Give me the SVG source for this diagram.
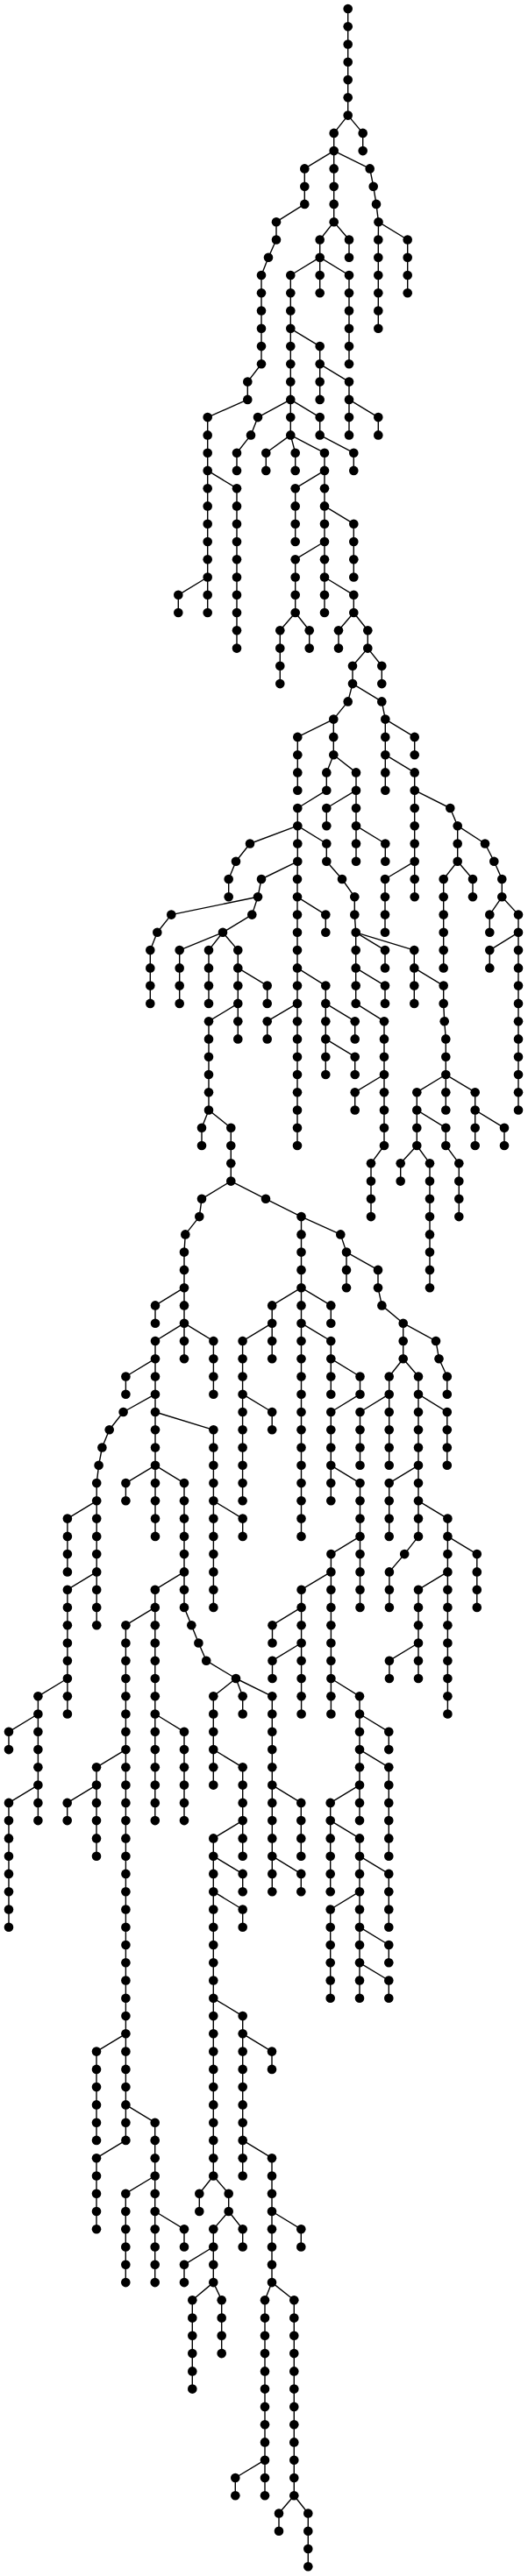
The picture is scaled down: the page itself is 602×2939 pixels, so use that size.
<svg xmlns="http://www.w3.org/2000/svg" width="602" height="2939" viewBox="0 0 602 2939">
<style>
.edges path{fill:none;stroke:#000;stroke-width:1.4;stroke-linejoin:round}
.nodes circle{fill:#000}
</style>
<rect width="602" height="2939" fill="#fff"/>
<g id="connectors" class="edges">
<path d="M396.7 10V131.6L380.7 151.9V253.2L364.7 273.5V334.3"/>
<path d="M396.7 131.6L413.7 151.9V172.1"/>
<path d="M380.7 172.1L347.3 192.4V232.9L315 253.2V273.5L306 293.7L298 314V415.3L282.3 435.6V455.9L236.7 476.1V699"/>
<path d="M380.7 172.1L421.7 192.4L425.7 212.7L429 232.9L431.5 253.2L431.3 273.5V374.8"/>
<path d="M431.5 253.2L464.7 273.5V334.3"/>
<path d="M380.7 253.2L398 273.5V293.7"/>
<path d="M364.7 293.7L331.3 314V496.4L336.7 516.7V536.9"/>
<path d="M364.7 293.7L398 314V415.3"/>
<path d="M331.3 374.8L364.7 395.1V455.9"/>
<path d="M364.7 415.3L398 435.6V496.4"/>
<path d="M398 455.9L431.3 476.1V496.4"/>
<path d="M331.3 455.9L294 476.1L286 496.4L270 516.7V536.9"/>
<path d="M331.3 455.9L364.7 476.1V496.4L403.3 516.7V536.9"/>
<path d="M331.3 496.4L303.3 516.7V536.9"/>
<path d="M331.3 496.4L370 516.7V699"/>
<path d="M370 536.9L336.7 557.2V618"/>
<path d="M370 577.4L403.3 597.7V658.5"/>
<path d="M370 618L336.7 638.2V699L319.3 719.3V780.1"/>
<path d="M336.7 699L352.7 719.3V739.6"/>
<path d="M370 658.5L403.3 678.8V699L419.3 719.3V739.6L402 759.8V780.1L396.7 800.4L380.3 820.6V861.2L372.3 881.4V901.7L339.3 922V982.8L339 1003V1307"/>
<path d="M403.3 699L386 719.3V739.6"/>
<path d="M236.7 536.9L270 557.2V739.6"/>
<path d="M236.7 658.5L203.3 678.8V699"/>
<path d="M419.3 739.6L435.3 759.8V780.1"/>
<path d="M402 780.1L435.3 800.4L439.3 820.6V901.7"/>
<path d="M380.3 820.6L339.3 840.9V901.7"/>
<path d="M439.3 820.6L472.7 840.9V861.2"/>
<path d="M380.3 861.2L406 881.4V982.8"/>
<path d="M439.3 861.2L472.7 881.4V1023.3"/>
<path d="M406 901.7L372.3 922V942.2"/>
<path d="M472.7 901.7L513.3 922L521.7 942.2V982.8L505.7 1003V1104.4"/>
<path d="M521.7 942.2L553 962.5L563.3 982.8L572.3 1003V1023.3L591 1043.6V1266.5"/>
<path d="M521.7 982.8L539 1003V1023.3"/>
<path d="M572.3 1023.3L558.3 1043.6V1063.8"/>
<path d="M591 1063.8L558.3 1084.1V1104.4"/>
<path d="M339.3 942.2L285 962.5L269 982.8L260.7 1003V1023.3"/>
<path d="M339.3 942.2L372.3 962.5V982.8L390 1003L404.3 1023.3V1043.6L405.7 1063.8V1144.9L438 1165.2V1307L423 1327.3V1388.1"/>
<path d="M406 942.2L439.3 962.5V982.8"/>
<path d="M472.7 982.8L439 1003V1063.8"/>
<path d="M339.3 982.8L298 1003L294 1023.3L287.3 1043.6L254 1063.8L271.3 1084.1V1185.4"/>
<path d="M294 1023.3L195.3 1043.6L179.3 1063.8L171.3 1084.1V1144.9"/>
<path d="M254 1063.8L204.7 1084.1V1144.9"/>
<path d="M254 1063.8L238 1084.1V1144.9"/>
<path d="M271.3 1104.4L304.7 1124.6V1144.9"/>
<path d="M271.3 1144.9L238 1165.2V1266.5L263.3 1286.8V1347.6L303 1367.8L343.5 1388.1V1752.9"/>
<path d="M339 1023.3L371.3 1043.6V1063.8"/>
<path d="M405.7 1063.8L439 1084.1V1104.4"/>
<path d="M405.7 1063.8L472.3 1084.1V1144.9"/>
<path d="M339 1104.4L371.3 1124.6V1226"/>
<path d="M405.7 1104.4L439 1124.6V1144.9"/>
<path d="M472.3 1104.4L505.7 1124.6V1144.9L506.7 1165.2L508.3 1185.4V1266.5"/>
<path d="M339 1144.9L304.7 1165.2V1185.4"/>
<path d="M371.3 1144.9L404.7 1165.2V1185.4"/>
<path d="M371.3 1185.4L404.7 1205.7V1226"/>
<path d="M438 1226L404.7 1246.2V1266.5"/>
<path d="M508.3 1226L475.3 1246.2V1307L490 1327.3V1469.2"/>
<path d="M508.3 1226L541.7 1246.2V1307"/>
<path d="M475.3 1266.5L508.3 1286.8V1307L523.3 1327.3V1388.1"/>
<path d="M541.7 1266.5L575 1286.8V1307"/>
<path d="M238 1266.5L230 1286.8V1307"/>
<path d="M475.3 1307L456.7 1327.3V1347.6"/>
<path d="M263.3 1347.6L230 1367.8L227.3 1388.1L211.3 1408.4L210 1428.6V1550.2"/>
<path d="M343.5 1388.1L388.3 1408.4L395 1428.6V1469.2"/>
<path d="M395 1428.6L431 1448.9V1469.2L435.4 1489.4L459.7 1509.7V1550.2L443.7 1570.5V1671.8"/>
<path d="M210 1469.2L177 1489.4V1509.7"/>
<path d="M343.5 1469.2L310.2 1489.4V1550.2"/>
<path d="M343.5 1469.2L377.3 1489.4V1509.7"/>
<path d="M210 1509.7L177 1530V1752.9"/>
<path d="M210 1509.7L243.4 1530V1590.7"/>
<path d="M310.2 1509.7L276.6 1530V1712.3"/>
<path d="M343.5 1509.7L377.3 1530V1590.7"/>
<path d="M377.3 1550.2L410.5 1570.5V1590.7L377.3 1611V1712.3"/>
<path d="M459.7 1509.7L497 1530L500.5 1550.2L509.8 1570.5V1590.7"/>
<path d="M459.7 1550.2L477 1570.5V1752.9L461.2 1773.1L443.9 1793.4V1833.9"/>
<path d="M177 1550.2L143.4 1570.5V1590.7"/>
<path d="M177 1590.7L140.6 1611L124.7 1631.3L116.4 1651.5L112.6 1671.8L110.2 1692.1V1854.2"/>
<path d="M276.6 1590.7L310.2 1611V1631.3"/>
<path d="M443.7 1590.7L410.5 1611V1671.8"/>
<path d="M477 1590.7L509.8 1611V1671.8"/>
<path d="M177 1611L243.4 1631.3V1833.9"/>
<path d="M177 1671.8L143.4 1692.1V1712.3"/>
<path d="M177 1671.8L210 1692.1V1833.9L218.3 1854.2L226.4 1874.5L235.2 1894.7L269 1915L276.7 1935.3V1955.5"/>
<path d="M377.3 1671.8L410.5 1692.1V1833.9"/>
<path d="M477 1671.8L443.7 1692.1V1752.9"/>
<path d="M110.2 1712.3L76.9 1732.6V1793.4"/>
<path d="M243.4 1712.3L276.7 1732.6V1752.9"/>
<path d="M477 1712.3L510.4 1732.6V1955.5"/>
<path d="M410.5 1752.9L377.4 1773.1V1955.5"/>
<path d="M510.4 1752.9L543.8 1773.1V1833.9"/>
<path d="M110.2 1793.4L76.9 1813.7V1955.5"/>
<path d="M210 1793.4L176.8 1813.7V2077.1"/>
<path d="M377.4 1793.4L343.6 1813.7V1955.5"/>
<path d="M510.4 1793.4L477 1813.7V1915"/>
<path d="M176.8 1833.9L143.4 1854.2V2441.9L110 2462.2V2543.3"/>
<path d="M343.6 1833.9L310.5 1854.2V1874.5"/>
<path d="M343.6 1874.5L310.5 1894.7V1915"/>
<path d="M477 1874.5L443.9 1894.7V1915"/>
<path d="M76.9 1915L43.4 1935.3V2077.1"/>
<path d="M269 1915L243.3 1935.3V2036.6"/>
<path d="M269 1915L310.3 1935.3V2158.2"/>
<path d="M377.4 1915L410 1935.3V2077.1"/>
<path d="M43.4 1955.5L10 1975.8V1996.1"/>
<path d="M176.8 1955.5L210 1975.8V2077.1"/>
<path d="M410 1955.5L443.3 1975.8V1996.1"/>
<path d="M143.4 1996.1L110 2016.3V2117.7"/>
<path d="M243.3 1996.1L276.7 2016.3V2117.7"/>
<path d="M410 1996.1L443.3 2016.3V2117.7"/>
<path d="M43.4 2036.6L10 2056.9V2198.7"/>
<path d="M110 2036.6L76.7 2056.9V2077.1"/>
<path d="M310.3 2036.6L343.3 2056.9V2117.7"/>
<path d="M410 2036.6L376.7 2056.9V2158.2"/>
<path d="M276.7 2077.1L243.3 2097.4V2482.5L227.3 2502.7V2523"/>
<path d="M376.7 2077.1L410 2097.4V2279.8"/>
<path d="M243.3 2117.7L276.7 2137.9V2158.2"/>
<path d="M310.3 2117.7L343.3 2137.9V2158.2"/>
<path d="M410 2117.7L443.3 2137.9V2198.7"/>
<path d="M243.3 2158.2L276.7 2178.5V2198.7"/>
<path d="M410 2158.2L376.7 2178.5V2279.8"/>
<path d="M410 2198.7L443.3 2219V2239.3"/>
<path d="M410 2239.3L443.3 2259.5V2279.8"/>
<path d="M243.3 2279.8L276.7 2300.1V2482.5"/>
<path d="M143.4 2320.3L110 2340.6V2441.9"/>
<path d="M276.7 2320.3L310 2340.6V2360.9"/>
<path d="M143.4 2401.4L176.7 2421.7V2604.1"/>
<path d="M276.7 2441.9L310 2462.2V2604.1L335.3 2624.3V2847.2L351.3 2867.5V2928.3"/>
<path d="M243.3 2482.5L260.7 2502.7V2523L243.3 2543.3V2604.1L219.3 2624.3V2725.6"/>
<path d="M176.7 2523L210 2543.3V2563.5"/>
<path d="M310 2523L343.3 2543.3V2563.5"/>
<path d="M260.7 2523L276.7 2543.3V2563.5"/>
<path d="M243.3 2563.5L210 2583.8V2604.1"/>
<path d="M243.3 2604.1L252.7 2624.3V2685.1"/>
<path d="M310 2604.1L302 2624.3V2847.2"/>
<path d="M302 2806.7L268.3 2827V2847.2"/>
<path d="M335.3 2847.2L318 2867.5V2887.8"/>
<path d="M176.7 2482.5L143.3 2502.7V2604.1"/>
</g>
<g class="nodes">
<g id="n1_0"><circle cx="396.7" cy="10" r="5.3"/></g>
<g id="n1_1"><circle cx="396.7" cy="30.3" r="5.3"/></g>
<g id="n1_2"><circle cx="396.7" cy="50.5" r="5.3"/></g>
<g id="n1_3"><circle cx="396.7" cy="70.8" r="5.3"/></g>
<g id="n1_4"><circle cx="396.7" cy="91.1" r="5.3"/></g>
<g id="n1_5"><circle cx="396.7" cy="111.3" r="5.3"/></g>
<g id="n1_6"><circle cx="396.7" cy="131.6" r="5.3"/></g>
<g id="n1_7"><circle cx="380.7" cy="151.9" r="5.3"/></g>
<g id="n1_8"><circle cx="380.7" cy="172.1" r="5.3"/></g>
<g id="n1_9"><circle cx="380.7" cy="192.4" r="5.3"/></g>
<g id="n1_10"><circle cx="380.7" cy="212.7" r="5.3"/></g>
<g id="n1_11"><circle cx="380.7" cy="232.9" r="5.3"/></g>
<g id="n1_12"><circle cx="380.7" cy="253.2" r="5.3"/></g>
<g id="n1_13"><circle cx="364.7" cy="273.5" r="5.3"/></g>
<g id="n1_14"><circle cx="364.7" cy="293.7" r="5.3"/></g>
<g id="n1_15"><circle cx="364.7" cy="314" r="5.3"/></g>
<g id="n1_16"><circle cx="364.7" cy="334.3" r="5.3"/></g>
<g id="n2_7"><circle cx="413.7" cy="151.9" r="5.3"/></g>
<g id="n2_8"><circle cx="413.7" cy="172.1" r="5.3"/></g>
<g id="n3_9"><circle cx="347.3" cy="192.4" r="5.3"/></g>
<g id="n3_10"><circle cx="347.3" cy="212.7" r="5.3"/></g>
<g id="n3_11"><circle cx="347.3" cy="232.9" r="5.3"/></g>
<g id="n3_12"><circle cx="315" cy="253.2" r="5.3"/></g>
<g id="n3_13"><circle cx="315" cy="273.5" r="5.3"/></g>
<g id="n3_14"><circle cx="306" cy="293.7" r="5.3"/></g>
<g id="n3_15"><circle cx="298" cy="314" r="5.3"/></g>
<g id="n3_16"><circle cx="298" cy="334.3" r="5.3"/></g>
<g id="n3_17"><circle cx="298" cy="354.5" r="5.3"/></g>
<g id="n3_18"><circle cx="298" cy="374.8" r="5.3"/></g>
<g id="n3_19"><circle cx="298" cy="395.1" r="5.3"/></g>
<g id="n3_20"><circle cx="298" cy="415.3" r="5.3"/></g>
<g id="n3_21"><circle cx="282.3" cy="435.6" r="5.3"/></g>
<g id="n3_22"><circle cx="282.3" cy="455.9" r="5.3"/></g>
<g id="n3_23"><circle cx="236.7" cy="476.1" r="5.3"/></g>
<g id="n3_24"><circle cx="236.7" cy="496.4" r="5.3"/></g>
<g id="n3_25"><circle cx="236.7" cy="516.7" r="5.3"/></g>
<g id="n3_26"><circle cx="236.7" cy="536.9" r="5.3"/></g>
<g id="n3_27"><circle cx="236.7" cy="557.2" r="5.3"/></g>
<g id="n3_28"><circle cx="236.7" cy="577.4" r="5.3"/></g>
<g id="n3_29"><circle cx="236.7" cy="597.7" r="5.3"/></g>
<g id="n3_30"><circle cx="236.7" cy="618" r="5.3"/></g>
<g id="n3_31"><circle cx="236.7" cy="638.2" r="5.3"/></g>
<g id="n3_32"><circle cx="236.7" cy="658.5" r="5.3"/></g>
<g id="n3_33"><circle cx="236.7" cy="678.8" r="5.3"/></g>
<g id="n3_34"><circle cx="236.7" cy="699" r="5.3"/></g>
<g id="n4_9"><circle cx="421.7" cy="192.4" r="5.3"/></g>
<g id="n4_10"><circle cx="425.7" cy="212.7" r="5.3"/></g>
<g id="n4_11"><circle cx="429" cy="232.9" r="5.3"/></g>
<g id="n4_12"><circle cx="431.5" cy="253.2" r="5.3"/></g>
<g id="n4_13"><circle cx="431.3" cy="273.5" r="5.3"/></g>
<g id="n4_14"><circle cx="431.3" cy="293.7" r="5.3"/></g>
<g id="n4_15"><circle cx="431.3" cy="314" r="5.3"/></g>
<g id="n4_16"><circle cx="431.3" cy="334.3" r="5.3"/></g>
<g id="n4_17"><circle cx="431.3" cy="354.5" r="5.3"/></g>
<g id="n4_18"><circle cx="431.3" cy="374.8" r="5.3"/></g>
<g id="n5_13"><circle cx="464.7" cy="273.5" r="5.3"/></g>
<g id="n5_14"><circle cx="464.7" cy="293.7" r="5.3"/></g>
<g id="n5_15"><circle cx="464.7" cy="314" r="5.3"/></g>
<g id="n5_16"><circle cx="464.7" cy="334.3" r="5.3"/></g>
<g id="n6_13"><circle cx="398" cy="273.5" r="5.3"/></g>
<g id="n6_14"><circle cx="398" cy="293.7" r="5.3"/></g>
<g id="n7_15"><circle cx="331.3" cy="314" r="5.3"/></g>
<g id="n7_16"><circle cx="331.3" cy="334.3" r="5.3"/></g>
<g id="n7_17"><circle cx="331.3" cy="354.5" r="5.3"/></g>
<g id="n7_18"><circle cx="331.3" cy="374.8" r="5.3"/></g>
<g id="n7_19"><circle cx="331.3" cy="395.1" r="5.3"/></g>
<g id="n7_20"><circle cx="331.3" cy="415.3" r="5.3"/></g>
<g id="n7_21"><circle cx="331.3" cy="435.6" r="5.3"/></g>
<g id="n7_22"><circle cx="331.3" cy="455.9" r="5.3"/></g>
<g id="n7_23"><circle cx="331.3" cy="476.1" r="5.3"/></g>
<g id="n7_24"><circle cx="331.3" cy="496.4" r="5.3"/></g>
<g id="n7_25"><circle cx="336.7" cy="516.7" r="5.3"/></g>
<g id="n7_26"><circle cx="336.7" cy="536.9" r="5.3"/></g>
<g id="n8_15"><circle cx="398" cy="314" r="5.3"/></g>
<g id="n8_16"><circle cx="398" cy="334.3" r="5.3"/></g>
<g id="n8_17"><circle cx="398" cy="354.5" r="5.3"/></g>
<g id="n8_18"><circle cx="398" cy="374.8" r="5.3"/></g>
<g id="n8_19"><circle cx="398" cy="395.1" r="5.3"/></g>
<g id="n8_20"><circle cx="398" cy="415.3" r="5.3"/></g>
<g id="n9_19"><circle cx="364.7" cy="395.1" r="5.3"/></g>
<g id="n9_20"><circle cx="364.7" cy="415.3" r="5.3"/></g>
<g id="n9_21"><circle cx="364.7" cy="435.6" r="5.3"/></g>
<g id="n9_22"><circle cx="364.7" cy="455.9" r="5.3"/></g>
<g id="n10_21"><circle cx="398" cy="435.6" r="5.3"/></g>
<g id="n10_22"><circle cx="398" cy="455.9" r="5.3"/></g>
<g id="n10_23"><circle cx="398" cy="476.1" r="5.3"/></g>
<g id="n10_24"><circle cx="398" cy="496.4" r="5.3"/></g>
<g id="n11_23"><circle cx="431.3" cy="476.1" r="5.3"/></g>
<g id="n11_24"><circle cx="431.3" cy="496.4" r="5.3"/></g>
<g id="n12_23"><circle cx="294" cy="476.1" r="5.3"/></g>
<g id="n12_24"><circle cx="286" cy="496.4" r="5.3"/></g>
<g id="n12_25"><circle cx="270" cy="516.7" r="5.3"/></g>
<g id="n12_26"><circle cx="270" cy="536.9" r="5.3"/></g>
<g id="n13_23"><circle cx="364.7" cy="476.1" r="5.3"/></g>
<g id="n13_24"><circle cx="364.7" cy="496.4" r="5.3"/></g>
<g id="n13_25"><circle cx="403.3" cy="516.7" r="5.3"/></g>
<g id="n13_26"><circle cx="403.3" cy="536.9" r="5.3"/></g>
<g id="n14_25"><circle cx="303.3" cy="516.7" r="5.3"/></g>
<g id="n14_26"><circle cx="303.3" cy="536.9" r="5.3"/></g>
<g id="n15_25"><circle cx="370" cy="516.7" r="5.3"/></g>
<g id="n15_26"><circle cx="370" cy="536.9" r="5.3"/></g>
<g id="n15_27"><circle cx="370" cy="557.2" r="5.3"/></g>
<g id="n15_28"><circle cx="370" cy="577.4" r="5.3"/></g>
<g id="n15_29"><circle cx="370" cy="597.7" r="5.3"/></g>
<g id="n15_30"><circle cx="370" cy="618" r="5.3"/></g>
<g id="n15_31"><circle cx="370" cy="638.2" r="5.3"/></g>
<g id="n15_32"><circle cx="370" cy="658.5" r="5.3"/></g>
<g id="n15_33"><circle cx="370" cy="678.8" r="5.3"/></g>
<g id="n15_34"><circle cx="370" cy="699" r="5.3"/></g>
<g id="n16_27"><circle cx="336.7" cy="557.2" r="5.3"/></g>
<g id="n16_28"><circle cx="336.7" cy="577.4" r="5.3"/></g>
<g id="n16_29"><circle cx="336.7" cy="597.7" r="5.3"/></g>
<g id="n16_30"><circle cx="336.7" cy="618" r="5.3"/></g>
<g id="n17_29"><circle cx="403.3" cy="597.7" r="5.3"/></g>
<g id="n17_30"><circle cx="403.3" cy="618" r="5.3"/></g>
<g id="n17_31"><circle cx="403.3" cy="638.2" r="5.3"/></g>
<g id="n17_32"><circle cx="403.3" cy="658.5" r="5.3"/></g>
<g id="n18_31"><circle cx="336.7" cy="638.2" r="5.3"/></g>
<g id="n18_32"><circle cx="336.7" cy="658.5" r="5.3"/></g>
<g id="n18_33"><circle cx="336.7" cy="678.8" r="5.3"/></g>
<g id="n18_34"><circle cx="336.7" cy="699" r="5.3"/></g>
<g id="n18_35"><circle cx="319.3" cy="719.3" r="5.3"/></g>
<g id="n18_36"><circle cx="319.3" cy="739.6" r="5.3"/></g>
<g id="n18_37"><circle cx="319.3" cy="759.8" r="5.3"/></g>
<g id="n18_38"><circle cx="319.3" cy="780.1" r="5.3"/></g>
<g id="n19_35"><circle cx="352.7" cy="719.3" r="5.3"/></g>
<g id="n19_36"><circle cx="352.7" cy="739.6" r="5.3"/></g>
<g id="n20_33"><circle cx="403.3" cy="678.8" r="5.3"/></g>
<g id="n20_34"><circle cx="403.3" cy="699" r="5.3"/></g>
<g id="n20_35"><circle cx="419.3" cy="719.3" r="5.3"/></g>
<g id="n20_36"><circle cx="419.3" cy="739.6" r="5.3"/></g>
<g id="n20_37"><circle cx="402" cy="759.8" r="5.3"/></g>
<g id="n20_38"><circle cx="402" cy="780.1" r="5.3"/></g>
<g id="n20_39"><circle cx="396.7" cy="800.4" r="5.3"/></g>
<g id="n20_40"><circle cx="380.3" cy="820.6" r="5.3"/></g>
<g id="n20_41"><circle cx="380.3" cy="840.9" r="5.3"/></g>
<g id="n20_42"><circle cx="380.3" cy="861.2" r="5.3"/></g>
<g id="n20_43"><circle cx="372.3" cy="881.4" r="5.3"/></g>
<g id="n20_44"><circle cx="372.3" cy="901.7" r="5.3"/></g>
<g id="n20_45"><circle cx="339.3" cy="922" r="5.3"/></g>
<g id="n20_46"><circle cx="339.3" cy="942.2" r="5.3"/></g>
<g id="n20_47"><circle cx="339.3" cy="962.5" r="5.3"/></g>
<g id="n20_48"><circle cx="339.3" cy="982.8" r="5.3"/></g>
<g id="n20_49"><circle cx="339" cy="1003" r="5.3"/></g>
<g id="n20_50"><circle cx="339" cy="1023.3" r="5.3"/></g>
<g id="n20_51"><circle cx="339" cy="1043.6" r="5.3"/></g>
<g id="n20_52"><circle cx="339" cy="1063.8" r="5.3"/></g>
<g id="n20_53"><circle cx="339" cy="1084.1" r="5.3"/></g>
<g id="n20_54"><circle cx="339" cy="1104.4" r="5.3"/></g>
<g id="n20_55"><circle cx="339" cy="1124.6" r="5.3"/></g>
<g id="n20_56"><circle cx="339" cy="1144.9" r="5.3"/></g>
<g id="n20_57"><circle cx="339" cy="1165.2" r="5.3"/></g>
<g id="n20_58"><circle cx="339" cy="1185.4" r="5.3"/></g>
<g id="n20_59"><circle cx="339" cy="1205.7" r="5.3"/></g>
<g id="n20_60"><circle cx="339" cy="1226" r="5.3"/></g>
<g id="n20_61"><circle cx="339" cy="1246.2" r="5.3"/></g>
<g id="n20_62"><circle cx="339" cy="1266.5" r="5.3"/></g>
<g id="n20_63"><circle cx="339" cy="1286.8" r="5.3"/></g>
<g id="n20_64"><circle cx="339" cy="1307" r="5.3"/></g>
<g id="n21_35"><circle cx="386" cy="719.3" r="5.3"/></g>
<g id="n21_36"><circle cx="386" cy="739.6" r="5.3"/></g>
<g id="n22_27"><circle cx="270" cy="557.2" r="5.3"/></g>
<g id="n22_28"><circle cx="270" cy="577.4" r="5.3"/></g>
<g id="n22_29"><circle cx="270" cy="597.7" r="5.3"/></g>
<g id="n22_30"><circle cx="270" cy="618" r="5.3"/></g>
<g id="n22_31"><circle cx="270" cy="638.2" r="5.3"/></g>
<g id="n22_32"><circle cx="270" cy="658.5" r="5.3"/></g>
<g id="n22_33"><circle cx="270" cy="678.8" r="5.3"/></g>
<g id="n22_34"><circle cx="270" cy="699" r="5.3"/></g>
<g id="n22_35"><circle cx="270" cy="719.3" r="5.3"/></g>
<g id="n22_36"><circle cx="270" cy="739.6" r="5.3"/></g>
<g id="n23_33"><circle cx="203.3" cy="678.8" r="5.3"/></g>
<g id="n23_34"><circle cx="203.3" cy="699" r="5.3"/></g>
<g id="n24_37"><circle cx="435.3" cy="759.8" r="5.3"/></g>
<g id="n24_38"><circle cx="435.3" cy="780.1" r="5.3"/></g>
<g id="n25_39"><circle cx="435.3" cy="800.4" r="5.3"/></g>
<g id="n25_40"><circle cx="439.3" cy="820.6" r="5.3"/></g>
<g id="n25_41"><circle cx="439.3" cy="840.9" r="5.3"/></g>
<g id="n25_42"><circle cx="439.3" cy="861.2" r="5.3"/></g>
<g id="n25_43"><circle cx="439.3" cy="881.4" r="5.3"/></g>
<g id="n25_44"><circle cx="439.3" cy="901.7" r="5.3"/></g>
<g id="n26_41"><circle cx="339.3" cy="840.9" r="5.3"/></g>
<g id="n26_42"><circle cx="339.3" cy="861.2" r="5.3"/></g>
<g id="n26_43"><circle cx="339.3" cy="881.4" r="5.3"/></g>
<g id="n26_44"><circle cx="339.3" cy="901.7" r="5.3"/></g>
<g id="n27_41"><circle cx="472.7" cy="840.9" r="5.3"/></g>
<g id="n27_42"><circle cx="472.7" cy="861.2" r="5.3"/></g>
<g id="n28_43"><circle cx="406" cy="881.4" r="5.3"/></g>
<g id="n28_44"><circle cx="406" cy="901.7" r="5.3"/></g>
<g id="n28_45"><circle cx="406" cy="922" r="5.3"/></g>
<g id="n28_46"><circle cx="406" cy="942.2" r="5.3"/></g>
<g id="n28_47"><circle cx="406" cy="962.5" r="5.3"/></g>
<g id="n28_48"><circle cx="406" cy="982.8" r="5.3"/></g>
<g id="n29_43"><circle cx="472.7" cy="881.4" r="5.3"/></g>
<g id="n29_44"><circle cx="472.7" cy="901.7" r="5.3"/></g>
<g id="n29_45"><circle cx="472.7" cy="922" r="5.3"/></g>
<g id="n29_46"><circle cx="472.7" cy="942.2" r="5.3"/></g>
<g id="n29_47"><circle cx="472.7" cy="962.5" r="5.3"/></g>
<g id="n29_48"><circle cx="472.7" cy="982.8" r="5.3"/></g>
<g id="n29_49"><circle cx="472.7" cy="1003" r="5.3"/></g>
<g id="n29_50"><circle cx="472.7" cy="1023.3" r="5.3"/></g>
<g id="n30_45"><circle cx="372.3" cy="922" r="5.3"/></g>
<g id="n30_46"><circle cx="372.3" cy="942.2" r="5.3"/></g>
<g id="n31_45"><circle cx="513.3" cy="922" r="5.3"/></g>
<g id="n31_46"><circle cx="521.7" cy="942.2" r="5.3"/></g>
<g id="n31_47"><circle cx="521.7" cy="962.5" r="5.3"/></g>
<g id="n31_48"><circle cx="521.7" cy="982.8" r="5.3"/></g>
<g id="n31_49"><circle cx="505.7" cy="1003" r="5.3"/></g>
<g id="n31_50"><circle cx="505.7" cy="1023.3" r="5.3"/></g>
<g id="n31_51"><circle cx="505.7" cy="1043.6" r="5.3"/></g>
<g id="n31_52"><circle cx="505.7" cy="1063.8" r="5.3"/></g>
<g id="n31_53"><circle cx="505.7" cy="1084.1" r="5.3"/></g>
<g id="n31_54"><circle cx="505.7" cy="1104.4" r="5.3"/></g>
<g id="n32_47"><circle cx="553" cy="962.5" r="5.3"/></g>
<g id="n32_48"><circle cx="563.3" cy="982.8" r="5.3"/></g>
<g id="n32_49"><circle cx="572.3" cy="1003" r="5.3"/></g>
<g id="n32_50"><circle cx="572.3" cy="1023.3" r="5.3"/></g>
<g id="n32_51"><circle cx="591" cy="1043.6" r="5.3"/></g>
<g id="n32_52"><circle cx="591" cy="1063.8" r="5.3"/></g>
<g id="n32_53"><circle cx="591" cy="1084.1" r="5.3"/></g>
<g id="n32_54"><circle cx="591" cy="1104.4" r="5.3"/></g>
<g id="n32_55"><circle cx="591" cy="1124.6" r="5.3"/></g>
<g id="n32_56"><circle cx="591" cy="1144.9" r="5.3"/></g>
<g id="n32_57"><circle cx="591" cy="1165.2" r="5.3"/></g>
<g id="n32_58"><circle cx="591" cy="1185.4" r="5.3"/></g>
<g id="n32_59"><circle cx="591" cy="1205.7" r="5.3"/></g>
<g id="n32_60"><circle cx="591" cy="1226" r="5.3"/></g>
<g id="n32_61"><circle cx="591" cy="1246.2" r="5.3"/></g>
<g id="n32_62"><circle cx="591" cy="1266.5" r="5.3"/></g>
<g id="n33_49"><circle cx="539" cy="1003" r="5.3"/></g>
<g id="n33_50"><circle cx="539" cy="1023.3" r="5.3"/></g>
<g id="n34_51"><circle cx="558.3" cy="1043.6" r="5.3"/></g>
<g id="n34_52"><circle cx="558.3" cy="1063.8" r="5.3"/></g>
<g id="n35_53"><circle cx="558.3" cy="1084.1" r="5.3"/></g>
<g id="n35_54"><circle cx="558.3" cy="1104.4" r="5.3"/></g>
<g id="n36_47"><circle cx="285" cy="962.5" r="5.3"/></g>
<g id="n36_48"><circle cx="269" cy="982.8" r="5.3"/></g>
<g id="n36_49"><circle cx="260.7" cy="1003" r="5.3"/></g>
<g id="n36_50"><circle cx="260.7" cy="1023.3" r="5.3"/></g>
<g id="n37_47"><circle cx="372.3" cy="962.5" r="5.3"/></g>
<g id="n37_48"><circle cx="372.3" cy="982.8" r="5.3"/></g>
<g id="n37_49"><circle cx="390" cy="1003" r="5.3"/></g>
<g id="n37_50"><circle cx="404.3" cy="1023.3" r="5.3"/></g>
<g id="n37_51"><circle cx="404.3" cy="1043.6" r="5.3"/></g>
<g id="n37_52"><circle cx="405.7" cy="1063.8" r="5.3"/></g>
<g id="n37_53"><circle cx="405.7" cy="1084.1" r="5.3"/></g>
<g id="n37_54"><circle cx="405.7" cy="1104.4" r="5.3"/></g>
<g id="n37_55"><circle cx="405.7" cy="1124.6" r="5.3"/></g>
<g id="n37_56"><circle cx="405.7" cy="1144.9" r="5.3"/></g>
<g id="n37_57"><circle cx="438" cy="1165.2" r="5.3"/></g>
<g id="n37_58"><circle cx="438" cy="1185.4" r="5.3"/></g>
<g id="n37_59"><circle cx="438" cy="1205.7" r="5.3"/></g>
<g id="n37_60"><circle cx="438" cy="1226" r="5.3"/></g>
<g id="n37_61"><circle cx="438" cy="1246.2" r="5.3"/></g>
<g id="n37_62"><circle cx="438" cy="1266.5" r="5.3"/></g>
<g id="n37_63"><circle cx="438" cy="1286.8" r="5.3"/></g>
<g id="n37_64"><circle cx="438" cy="1307" r="5.3"/></g>
<g id="n37_65"><circle cx="423" cy="1327.3" r="5.3"/></g>
<g id="n37_66"><circle cx="423" cy="1347.6" r="5.3"/></g>
<g id="n37_67"><circle cx="423" cy="1367.8" r="5.3"/></g>
<g id="n37_68"><circle cx="423" cy="1388.1" r="5.3"/></g>
<g id="n38_47"><circle cx="439.3" cy="962.5" r="5.3"/></g>
<g id="n38_48"><circle cx="439.3" cy="982.8" r="5.3"/></g>
<g id="n39_49"><circle cx="439" cy="1003" r="5.3"/></g>
<g id="n39_50"><circle cx="439" cy="1023.3" r="5.3"/></g>
<g id="n39_51"><circle cx="439" cy="1043.6" r="5.3"/></g>
<g id="n39_52"><circle cx="439" cy="1063.8" r="5.3"/></g>
<g id="n40_49"><circle cx="298" cy="1003" r="5.3"/></g>
<g id="n40_50"><circle cx="294" cy="1023.3" r="5.3"/></g>
<g id="n40_51"><circle cx="287.3" cy="1043.6" r="5.3"/></g>
<g id="n40_52"><circle cx="254" cy="1063.8" r="5.3"/></g>
<g id="n40_53"><circle cx="271.3" cy="1084.1" r="5.3"/></g>
<g id="n40_54"><circle cx="271.3" cy="1104.4" r="5.3"/></g>
<g id="n40_55"><circle cx="271.3" cy="1124.6" r="5.3"/></g>
<g id="n40_56"><circle cx="271.3" cy="1144.9" r="5.3"/></g>
<g id="n40_57"><circle cx="271.3" cy="1165.2" r="5.3"/></g>
<g id="n40_58"><circle cx="271.3" cy="1185.4" r="5.3"/></g>
<g id="n41_51"><circle cx="195.3" cy="1043.6" r="5.3"/></g>
<g id="n41_52"><circle cx="179.3" cy="1063.8" r="5.3"/></g>
<g id="n41_53"><circle cx="171.3" cy="1084.1" r="5.3"/></g>
<g id="n41_54"><circle cx="171.3" cy="1104.4" r="5.3"/></g>
<g id="n41_55"><circle cx="171.3" cy="1124.6" r="5.3"/></g>
<g id="n41_56"><circle cx="171.3" cy="1144.9" r="5.3"/></g>
<g id="n42_53"><circle cx="204.7" cy="1084.1" r="5.3"/></g>
<g id="n42_54"><circle cx="204.7" cy="1104.4" r="5.3"/></g>
<g id="n42_55"><circle cx="204.7" cy="1124.6" r="5.3"/></g>
<g id="n42_56"><circle cx="204.7" cy="1144.9" r="5.3"/></g>
<g id="n43_53"><circle cx="238" cy="1084.1" r="5.3"/></g>
<g id="n43_54"><circle cx="238" cy="1104.4" r="5.3"/></g>
<g id="n43_55"><circle cx="238" cy="1124.6" r="5.3"/></g>
<g id="n43_56"><circle cx="238" cy="1144.9" r="5.3"/></g>
<g id="n44_55"><circle cx="304.7" cy="1124.6" r="5.3"/></g>
<g id="n44_56"><circle cx="304.7" cy="1144.9" r="5.3"/></g>
<g id="n45_57"><circle cx="238" cy="1165.2" r="5.3"/></g>
<g id="n45_58"><circle cx="238" cy="1185.4" r="5.3"/></g>
<g id="n45_59"><circle cx="238" cy="1205.7" r="5.3"/></g>
<g id="n45_60"><circle cx="238" cy="1226" r="5.3"/></g>
<g id="n45_61"><circle cx="238" cy="1246.2" r="5.3"/></g>
<g id="n45_62"><circle cx="238" cy="1266.5" r="5.3"/></g>
<g id="n45_63"><circle cx="263.3" cy="1286.8" r="5.3"/></g>
<g id="n45_64"><circle cx="263.3" cy="1307" r="5.3"/></g>
<g id="n45_65"><circle cx="263.3" cy="1327.3" r="5.3"/></g>
<g id="n45_66"><circle cx="263.3" cy="1347.6" r="5.3"/></g>
<g id="n45_67"><circle cx="303" cy="1367.8" r="5.3"/></g>
<g id="n45_68"><circle cx="343.5" cy="1388.1" r="5.3"/></g>
<g id="n45_69"><circle cx="343.5" cy="1408.4" r="5.3"/></g>
<g id="n45_70"><circle cx="343.5" cy="1428.6" r="5.3"/></g>
<g id="n45_71"><circle cx="343.5" cy="1448.9" r="5.3"/></g>
<g id="n45_72"><circle cx="343.5" cy="1469.2" r="5.3"/></g>
<g id="n45_73"><circle cx="343.5" cy="1489.4" r="5.3"/></g>
<g id="n45_74"><circle cx="343.5" cy="1509.7" r="5.3"/></g>
<g id="n45_75"><circle cx="343.5" cy="1530" r="5.3"/></g>
<g id="n45_76"><circle cx="343.5" cy="1550.2" r="5.3"/></g>
<g id="n45_77"><circle cx="343.5" cy="1570.5" r="5.3"/></g>
<g id="n45_78"><circle cx="343.5" cy="1590.7" r="5.3"/></g>
<g id="n45_79"><circle cx="343.5" cy="1611" r="5.3"/></g>
<g id="n45_80"><circle cx="343.5" cy="1631.3" r="5.3"/></g>
<g id="n45_81"><circle cx="343.5" cy="1651.5" r="5.3"/></g>
<g id="n45_82"><circle cx="343.5" cy="1671.8" r="5.3"/></g>
<g id="n45_83"><circle cx="343.5" cy="1692.1" r="5.3"/></g>
<g id="n45_84"><circle cx="343.5" cy="1712.3" r="5.3"/></g>
<g id="n45_85"><circle cx="343.5" cy="1732.6" r="5.3"/></g>
<g id="n45_86"><circle cx="343.5" cy="1752.9" r="5.3"/></g>
<g id="n46_51"><circle cx="371.3" cy="1043.6" r="5.3"/></g>
<g id="n46_52"><circle cx="371.3" cy="1063.8" r="5.3"/></g>
<g id="n47_53"><circle cx="439" cy="1084.1" r="5.3"/></g>
<g id="n47_54"><circle cx="439" cy="1104.4" r="5.3"/></g>
<g id="n48_53"><circle cx="472.3" cy="1084.1" r="5.3"/></g>
<g id="n48_54"><circle cx="472.3" cy="1104.4" r="5.3"/></g>
<g id="n48_55"><circle cx="472.3" cy="1124.6" r="5.3"/></g>
<g id="n48_56"><circle cx="472.3" cy="1144.9" r="5.3"/></g>
<g id="n50_55"><circle cx="371.3" cy="1124.6" r="5.3"/></g>
<g id="n50_56"><circle cx="371.3" cy="1144.9" r="5.3"/></g>
<g id="n50_57"><circle cx="371.3" cy="1165.2" r="5.3"/></g>
<g id="n50_58"><circle cx="371.3" cy="1185.4" r="5.3"/></g>
<g id="n50_59"><circle cx="371.3" cy="1205.7" r="5.3"/></g>
<g id="n50_60"><circle cx="371.3" cy="1226" r="5.3"/></g>
<g id="n51_55"><circle cx="439" cy="1124.6" r="5.3"/></g>
<g id="n51_56"><circle cx="439" cy="1144.9" r="5.3"/></g>
<g id="n52_55"><circle cx="505.7" cy="1124.6" r="5.3"/></g>
<g id="n52_56"><circle cx="505.7" cy="1144.9" r="5.3"/></g>
<g id="n52_57"><circle cx="506.7" cy="1165.2" r="5.3"/></g>
<g id="n52_58"><circle cx="508.3" cy="1185.4" r="5.3"/></g>
<g id="n52_59"><circle cx="508.3" cy="1205.7" r="5.3"/></g>
<g id="n52_60"><circle cx="508.3" cy="1226" r="5.3"/></g>
<g id="n52_61"><circle cx="508.3" cy="1246.2" r="5.3"/></g>
<g id="n52_62"><circle cx="508.3" cy="1266.5" r="5.3"/></g>
<g id="n53_57"><circle cx="304.7" cy="1165.2" r="5.3"/></g>
<g id="n53_58"><circle cx="304.7" cy="1185.4" r="5.3"/></g>
<g id="n54_57"><circle cx="404.7" cy="1165.2" r="5.3"/></g>
<g id="n54_58"><circle cx="404.7" cy="1185.4" r="5.3"/></g>
<g id="n55_59"><circle cx="404.7" cy="1205.7" r="5.3"/></g>
<g id="n55_60"><circle cx="404.7" cy="1226" r="5.3"/></g>
<g id="n56_61"><circle cx="404.7" cy="1246.2" r="5.3"/></g>
<g id="n56_62"><circle cx="404.7" cy="1266.5" r="5.3"/></g>
<g id="n57_61"><circle cx="475.3" cy="1246.2" r="5.3"/></g>
<g id="n57_62"><circle cx="475.3" cy="1266.5" r="5.3"/></g>
<g id="n57_63"><circle cx="475.3" cy="1286.8" r="5.3"/></g>
<g id="n57_64"><circle cx="475.3" cy="1307" r="5.3"/></g>
<g id="n57_65"><circle cx="490" cy="1327.3" r="5.3"/></g>
<g id="n57_66"><circle cx="490" cy="1347.6" r="5.3"/></g>
<g id="n57_67"><circle cx="490" cy="1367.8" r="5.3"/></g>
<g id="n57_68"><circle cx="490" cy="1388.1" r="5.3"/></g>
<g id="n57_69"><circle cx="490" cy="1408.4" r="5.3"/></g>
<g id="n57_70"><circle cx="490" cy="1428.6" r="5.3"/></g>
<g id="n57_71"><circle cx="490" cy="1448.9" r="5.3"/></g>
<g id="n57_72"><circle cx="490" cy="1469.2" r="5.3"/></g>
<g id="n58_61"><circle cx="541.7" cy="1246.2" r="5.3"/></g>
<g id="n58_62"><circle cx="541.7" cy="1266.5" r="5.3"/></g>
<g id="n58_63"><circle cx="541.7" cy="1286.8" r="5.3"/></g>
<g id="n58_64"><circle cx="541.7" cy="1307" r="5.3"/></g>
<g id="n59_63"><circle cx="508.3" cy="1286.8" r="5.3"/></g>
<g id="n59_64"><circle cx="508.3" cy="1307" r="5.3"/></g>
<g id="n59_65"><circle cx="523.3" cy="1327.3" r="5.3"/></g>
<g id="n59_66"><circle cx="523.3" cy="1347.6" r="5.3"/></g>
<g id="n59_67"><circle cx="523.3" cy="1367.8" r="5.3"/></g>
<g id="n59_68"><circle cx="523.3" cy="1388.1" r="5.3"/></g>
<g id="n60_63"><circle cx="575" cy="1286.8" r="5.3"/></g>
<g id="n60_64"><circle cx="575" cy="1307" r="5.3"/></g>
<g id="n61_63"><circle cx="230" cy="1286.8" r="5.3"/></g>
<g id="n61_64"><circle cx="230" cy="1307" r="5.3"/></g>
<g id="n62_65"><circle cx="456.7" cy="1327.3" r="5.3"/></g>
<g id="n62_66"><circle cx="456.7" cy="1347.6" r="5.3"/></g>
<g id="n63_67"><circle cx="230" cy="1367.8" r="5.3"/></g>
<g id="n63_68"><circle cx="227.3" cy="1388.1" r="5.3"/></g>
<g id="n63_69"><circle cx="211.3" cy="1408.4" r="5.3"/></g>
<g id="n63_70"><circle cx="210" cy="1428.6" r="5.3"/></g>
<g id="n63_71"><circle cx="210" cy="1448.9" r="5.3"/></g>
<g id="n63_72"><circle cx="210" cy="1469.2" r="5.3"/></g>
<g id="n63_73"><circle cx="210" cy="1489.4" r="5.3"/></g>
<g id="n63_74"><circle cx="210" cy="1509.7" r="5.3"/></g>
<g id="n63_75"><circle cx="210" cy="1530" r="5.3"/></g>
<g id="n63_76"><circle cx="210" cy="1550.2" r="5.3"/></g>
<g id="n64_69"><circle cx="388.3" cy="1408.4" r="5.3"/></g>
<g id="n64_70"><circle cx="395" cy="1428.6" r="5.3"/></g>
<g id="n64_71"><circle cx="395" cy="1448.9" r="5.3"/></g>
<g id="n64_72"><circle cx="395" cy="1469.2" r="5.3"/></g>
<g id="n65_71"><circle cx="431" cy="1448.9" r="5.3"/></g>
<g id="n65_72"><circle cx="431" cy="1469.2" r="5.3"/></g>
<g id="n65_73"><circle cx="435.4" cy="1489.4" r="5.3"/></g>
<g id="n65_74"><circle cx="459.7" cy="1509.7" r="5.3"/></g>
<g id="n65_75"><circle cx="459.7" cy="1530" r="5.3"/></g>
<g id="n65_76"><circle cx="459.7" cy="1550.2" r="5.3"/></g>
<g id="n65_77"><circle cx="443.7" cy="1570.5" r="5.3"/></g>
<g id="n65_78"><circle cx="443.7" cy="1590.7" r="5.3"/></g>
<g id="n65_79"><circle cx="443.7" cy="1611" r="5.3"/></g>
<g id="n65_80"><circle cx="443.7" cy="1631.3" r="5.3"/></g>
<g id="n65_81"><circle cx="443.7" cy="1651.5" r="5.3"/></g>
<g id="n65_82"><circle cx="443.7" cy="1671.8" r="5.3"/></g>
<g id="n66_73"><circle cx="177" cy="1489.4" r="5.3"/></g>
<g id="n66_74"><circle cx="177" cy="1509.7" r="5.3"/></g>
<g id="n67_73"><circle cx="310.2" cy="1489.4" r="5.3"/></g>
<g id="n67_74"><circle cx="310.2" cy="1509.7" r="5.3"/></g>
<g id="n67_75"><circle cx="310.2" cy="1530" r="5.3"/></g>
<g id="n67_76"><circle cx="310.2" cy="1550.2" r="5.3"/></g>
<g id="n68_73"><circle cx="377.3" cy="1489.4" r="5.3"/></g>
<g id="n68_74"><circle cx="377.3" cy="1509.7" r="5.3"/></g>
<g id="n69_75"><circle cx="177" cy="1530" r="5.3"/></g>
<g id="n69_76"><circle cx="177" cy="1550.2" r="5.3"/></g>
<g id="n69_77"><circle cx="177" cy="1570.5" r="5.3"/></g>
<g id="n69_78"><circle cx="177" cy="1590.7" r="5.3"/></g>
<g id="n69_79"><circle cx="177" cy="1611" r="5.3"/></g>
<g id="n69_80"><circle cx="177" cy="1631.3" r="5.3"/></g>
<g id="n69_81"><circle cx="177" cy="1651.5" r="5.3"/></g>
<g id="n69_82"><circle cx="177" cy="1671.8" r="5.3"/></g>
<g id="n69_83"><circle cx="177" cy="1692.1" r="5.3"/></g>
<g id="n69_84"><circle cx="177" cy="1712.3" r="5.3"/></g>
<g id="n69_85"><circle cx="177" cy="1732.6" r="5.3"/></g>
<g id="n69_86"><circle cx="177" cy="1752.9" r="5.3"/></g>
<g id="n70_75"><circle cx="243.4" cy="1530" r="5.3"/></g>
<g id="n70_76"><circle cx="243.4" cy="1550.2" r="5.3"/></g>
<g id="n70_77"><circle cx="243.4" cy="1570.5" r="5.3"/></g>
<g id="n70_78"><circle cx="243.4" cy="1590.7" r="5.3"/></g>
<g id="n71_75"><circle cx="276.6" cy="1530" r="5.3"/></g>
<g id="n71_76"><circle cx="276.6" cy="1550.2" r="5.3"/></g>
<g id="n71_77"><circle cx="276.6" cy="1570.5" r="5.3"/></g>
<g id="n71_78"><circle cx="276.6" cy="1590.7" r="5.3"/></g>
<g id="n71_79"><circle cx="276.6" cy="1611" r="5.3"/></g>
<g id="n71_80"><circle cx="276.6" cy="1631.3" r="5.3"/></g>
<g id="n71_81"><circle cx="276.6" cy="1651.5" r="5.3"/></g>
<g id="n71_82"><circle cx="276.6" cy="1671.8" r="5.3"/></g>
<g id="n71_83"><circle cx="276.6" cy="1692.1" r="5.3"/></g>
<g id="n71_84"><circle cx="276.6" cy="1712.3" r="5.3"/></g>
<g id="n72_75"><circle cx="377.3" cy="1530" r="5.3"/></g>
<g id="n72_76"><circle cx="377.3" cy="1550.2" r="5.3"/></g>
<g id="n72_77"><circle cx="377.3" cy="1570.5" r="5.3"/></g>
<g id="n72_78"><circle cx="377.3" cy="1590.7" r="5.3"/></g>
<g id="n73_77"><circle cx="410.5" cy="1570.5" r="5.3"/></g>
<g id="n73_78"><circle cx="410.5" cy="1590.7" r="5.3"/></g>
<g id="n73_79"><circle cx="377.3" cy="1611" r="5.3"/></g>
<g id="n73_80"><circle cx="377.3" cy="1631.3" r="5.3"/></g>
<g id="n73_81"><circle cx="377.3" cy="1651.5" r="5.3"/></g>
<g id="n73_82"><circle cx="377.3" cy="1671.8" r="5.3"/></g>
<g id="n73_83"><circle cx="377.3" cy="1692.1" r="5.3"/></g>
<g id="n73_84"><circle cx="377.3" cy="1712.3" r="5.3"/></g>
<g id="n74_75"><circle cx="497" cy="1530" r="5.3"/></g>
<g id="n74_76"><circle cx="500.5" cy="1550.2" r="5.3"/></g>
<g id="n74_77"><circle cx="509.8" cy="1570.5" r="5.3"/></g>
<g id="n74_78"><circle cx="509.8" cy="1590.7" r="5.3"/></g>
<g id="n75_77"><circle cx="477" cy="1570.5" r="5.3"/></g>
<g id="n75_78"><circle cx="477" cy="1590.7" r="5.3"/></g>
<g id="n75_79"><circle cx="477" cy="1611" r="5.3"/></g>
<g id="n75_80"><circle cx="477" cy="1631.3" r="5.3"/></g>
<g id="n75_81"><circle cx="477" cy="1651.5" r="5.3"/></g>
<g id="n75_82"><circle cx="477" cy="1671.8" r="5.3"/></g>
<g id="n75_83"><circle cx="477" cy="1692.1" r="5.3"/></g>
<g id="n75_84"><circle cx="477" cy="1712.3" r="5.3"/></g>
<g id="n75_85"><circle cx="477" cy="1732.6" r="5.3"/></g>
<g id="n75_86"><circle cx="477" cy="1752.9" r="5.3"/></g>
<g id="n75_87"><circle cx="461.2" cy="1773.1" r="5.3"/></g>
<g id="n75_88"><circle cx="443.9" cy="1793.4" r="5.3"/></g>
<g id="n75_89"><circle cx="443.9" cy="1813.7" r="5.3"/></g>
<g id="n75_90"><circle cx="443.9" cy="1833.9" r="5.3"/></g>
<g id="n76_77"><circle cx="143.4" cy="1570.5" r="5.3"/></g>
<g id="n76_78"><circle cx="143.4" cy="1590.7" r="5.3"/></g>
<g id="n77_79"><circle cx="140.6" cy="1611" r="5.3"/></g>
<g id="n77_80"><circle cx="124.7" cy="1631.3" r="5.3"/></g>
<g id="n77_81"><circle cx="116.4" cy="1651.5" r="5.3"/></g>
<g id="n77_82"><circle cx="112.6" cy="1671.8" r="5.3"/></g>
<g id="n77_83"><circle cx="110.2" cy="1692.1" r="5.3"/></g>
<g id="n77_84"><circle cx="110.2" cy="1712.3" r="5.3"/></g>
<g id="n77_85"><circle cx="110.2" cy="1732.6" r="5.3"/></g>
<g id="n77_86"><circle cx="110.2" cy="1752.9" r="5.3"/></g>
<g id="n77_87"><circle cx="110.2" cy="1773.1" r="5.3"/></g>
<g id="n77_88"><circle cx="110.2" cy="1793.4" r="5.3"/></g>
<g id="n77_89"><circle cx="110.2" cy="1813.7" r="5.3"/></g>
<g id="n77_90"><circle cx="110.2" cy="1833.9" r="5.3"/></g>
<g id="n77_91"><circle cx="110.2" cy="1854.2" r="5.3"/></g>
<g id="n78_79"><circle cx="310.2" cy="1611" r="5.3"/></g>
<g id="n78_80"><circle cx="310.2" cy="1631.3" r="5.3"/></g>
<g id="n79_79"><circle cx="410.5" cy="1611" r="5.3"/></g>
<g id="n79_80"><circle cx="410.5" cy="1631.3" r="5.3"/></g>
<g id="n79_81"><circle cx="410.5" cy="1651.5" r="5.3"/></g>
<g id="n79_82"><circle cx="410.5" cy="1671.8" r="5.3"/></g>
<g id="n80_79"><circle cx="509.8" cy="1611" r="5.3"/></g>
<g id="n80_80"><circle cx="509.8" cy="1631.3" r="5.3"/></g>
<g id="n80_81"><circle cx="509.8" cy="1651.5" r="5.3"/></g>
<g id="n80_82"><circle cx="509.8" cy="1671.8" r="5.3"/></g>
<g id="n81_80"><circle cx="243.4" cy="1631.3" r="5.3"/></g>
<g id="n81_81"><circle cx="243.4" cy="1651.5" r="5.3"/></g>
<g id="n81_82"><circle cx="243.4" cy="1671.8" r="5.3"/></g>
<g id="n81_83"><circle cx="243.4" cy="1692.1" r="5.3"/></g>
<g id="n81_84"><circle cx="243.4" cy="1712.3" r="5.3"/></g>
<g id="n81_85"><circle cx="243.4" cy="1732.6" r="5.3"/></g>
<g id="n81_86"><circle cx="243.4" cy="1752.9" r="5.3"/></g>
<g id="n81_87"><circle cx="243.4" cy="1773.1" r="5.3"/></g>
<g id="n81_88"><circle cx="243.4" cy="1793.4" r="5.3"/></g>
<g id="n81_89"><circle cx="243.4" cy="1813.7" r="5.3"/></g>
<g id="n81_90"><circle cx="243.4" cy="1833.9" r="5.3"/></g>
<g id="n82_83"><circle cx="143.4" cy="1692.1" r="5.3"/></g>
<g id="n82_84"><circle cx="143.4" cy="1712.3" r="5.3"/></g>
<g id="n83_83"><circle cx="210" cy="1692.1" r="5.3"/></g>
<g id="n83_84"><circle cx="210" cy="1712.3" r="5.3"/></g>
<g id="n83_85"><circle cx="210" cy="1732.6" r="5.3"/></g>
<g id="n83_86"><circle cx="210" cy="1752.9" r="5.3"/></g>
<g id="n83_87"><circle cx="210" cy="1773.1" r="5.3"/></g>
<g id="n83_88"><circle cx="210" cy="1793.4" r="5.3"/></g>
<g id="n83_89"><circle cx="210" cy="1813.7" r="5.3"/></g>
<g id="n83_90"><circle cx="210" cy="1833.9" r="5.3"/></g>
<g id="n83_91"><circle cx="218.3" cy="1854.2" r="5.3"/></g>
<g id="n83_92"><circle cx="226.4" cy="1874.5" r="5.3"/></g>
<g id="n83_93"><circle cx="235.2" cy="1894.7" r="5.3"/></g>
<g id="n83_94"><circle cx="269" cy="1915" r="5.3"/></g>
<g id="n83_95"><circle cx="276.7" cy="1935.3" r="5.3"/></g>
<g id="n83_96"><circle cx="276.7" cy="1955.5" r="5.3"/></g>
<g id="n84_83"><circle cx="410.5" cy="1692.1" r="5.3"/></g>
<g id="n84_84"><circle cx="410.5" cy="1712.3" r="5.3"/></g>
<g id="n84_85"><circle cx="410.5" cy="1732.6" r="5.3"/></g>
<g id="n84_86"><circle cx="410.5" cy="1752.9" r="5.3"/></g>
<g id="n84_87"><circle cx="410.5" cy="1773.1" r="5.3"/></g>
<g id="n84_88"><circle cx="410.5" cy="1793.4" r="5.3"/></g>
<g id="n84_89"><circle cx="410.5" cy="1813.7" r="5.3"/></g>
<g id="n84_90"><circle cx="410.5" cy="1833.9" r="5.3"/></g>
<g id="n85_83"><circle cx="443.7" cy="1692.1" r="5.3"/></g>
<g id="n85_84"><circle cx="443.7" cy="1712.3" r="5.3"/></g>
<g id="n85_85"><circle cx="443.7" cy="1732.6" r="5.3"/></g>
<g id="n85_86"><circle cx="443.7" cy="1752.9" r="5.3"/></g>
<g id="n86_85"><circle cx="76.9" cy="1732.6" r="5.3"/></g>
<g id="n86_86"><circle cx="76.9" cy="1752.9" r="5.3"/></g>
<g id="n86_87"><circle cx="76.9" cy="1773.1" r="5.3"/></g>
<g id="n86_88"><circle cx="76.9" cy="1793.4" r="5.3"/></g>
<g id="n87_85"><circle cx="276.7" cy="1732.6" r="5.3"/></g>
<g id="n87_86"><circle cx="276.7" cy="1752.9" r="5.3"/></g>
<g id="n88_85"><circle cx="510.4" cy="1732.6" r="5.3"/></g>
<g id="n88_86"><circle cx="510.4" cy="1752.9" r="5.3"/></g>
<g id="n88_87"><circle cx="510.4" cy="1773.1" r="5.3"/></g>
<g id="n88_88"><circle cx="510.4" cy="1793.4" r="5.3"/></g>
<g id="n88_89"><circle cx="510.4" cy="1813.7" r="5.3"/></g>
<g id="n88_90"><circle cx="510.4" cy="1833.9" r="5.3"/></g>
<g id="n88_91"><circle cx="510.4" cy="1854.2" r="5.3"/></g>
<g id="n88_92"><circle cx="510.4" cy="1874.5" r="5.3"/></g>
<g id="n88_93"><circle cx="510.4" cy="1894.7" r="5.3"/></g>
<g id="n88_94"><circle cx="510.4" cy="1915" r="5.3"/></g>
<g id="n88_95"><circle cx="510.4" cy="1935.3" r="5.3"/></g>
<g id="n88_96"><circle cx="510.4" cy="1955.5" r="5.3"/></g>
<g id="n89_87"><circle cx="377.4" cy="1773.1" r="5.3"/></g>
<g id="n89_88"><circle cx="377.4" cy="1793.4" r="5.3"/></g>
<g id="n89_89"><circle cx="377.4" cy="1813.7" r="5.3"/></g>
<g id="n89_90"><circle cx="377.4" cy="1833.9" r="5.3"/></g>
<g id="n89_91"><circle cx="377.4" cy="1854.2" r="5.3"/></g>
<g id="n89_92"><circle cx="377.4" cy="1874.5" r="5.3"/></g>
<g id="n89_93"><circle cx="377.4" cy="1894.7" r="5.3"/></g>
<g id="n89_94"><circle cx="377.4" cy="1915" r="5.3"/></g>
<g id="n89_95"><circle cx="377.4" cy="1935.3" r="5.3"/></g>
<g id="n89_96"><circle cx="377.4" cy="1955.5" r="5.3"/></g>
<g id="n90_87"><circle cx="543.8" cy="1773.1" r="5.3"/></g>
<g id="n90_88"><circle cx="543.8" cy="1793.4" r="5.3"/></g>
<g id="n90_89"><circle cx="543.8" cy="1813.7" r="5.3"/></g>
<g id="n90_90"><circle cx="543.8" cy="1833.9" r="5.3"/></g>
<g id="n91_89"><circle cx="76.9" cy="1813.7" r="5.3"/></g>
<g id="n91_90"><circle cx="76.9" cy="1833.9" r="5.3"/></g>
<g id="n91_91"><circle cx="76.9" cy="1854.2" r="5.3"/></g>
<g id="n91_92"><circle cx="76.9" cy="1874.5" r="5.3"/></g>
<g id="n91_93"><circle cx="76.9" cy="1894.7" r="5.3"/></g>
<g id="n91_94"><circle cx="76.9" cy="1915" r="5.3"/></g>
<g id="n91_95"><circle cx="76.9" cy="1935.3" r="5.3"/></g>
<g id="n91_96"><circle cx="76.9" cy="1955.5" r="5.3"/></g>
<g id="n92_89"><circle cx="176.8" cy="1813.7" r="5.3"/></g>
<g id="n92_90"><circle cx="176.8" cy="1833.9" r="5.3"/></g>
<g id="n92_91"><circle cx="176.8" cy="1854.2" r="5.3"/></g>
<g id="n92_92"><circle cx="176.8" cy="1874.5" r="5.3"/></g>
<g id="n92_93"><circle cx="176.8" cy="1894.7" r="5.3"/></g>
<g id="n92_94"><circle cx="176.8" cy="1915" r="5.3"/></g>
<g id="n92_95"><circle cx="176.8" cy="1935.3" r="5.3"/></g>
<g id="n92_96"><circle cx="176.8" cy="1955.5" r="5.3"/></g>
<g id="n92_97"><circle cx="176.8" cy="1975.8" r="5.3"/></g>
<g id="n92_98"><circle cx="176.8" cy="1996.1" r="5.3"/></g>
<g id="n92_99"><circle cx="176.8" cy="2016.3" r="5.3"/></g>
<g id="n92_100"><circle cx="176.8" cy="2036.6" r="5.3"/></g>
<g id="n92_101"><circle cx="176.8" cy="2056.9" r="5.3"/></g>
<g id="n92_102"><circle cx="176.8" cy="2077.1" r="5.3"/></g>
<g id="n93_89"><circle cx="343.6" cy="1813.7" r="5.3"/></g>
<g id="n93_90"><circle cx="343.6" cy="1833.9" r="5.3"/></g>
<g id="n93_91"><circle cx="343.6" cy="1854.2" r="5.3"/></g>
<g id="n93_92"><circle cx="343.6" cy="1874.5" r="5.3"/></g>
<g id="n93_93"><circle cx="343.6" cy="1894.7" r="5.3"/></g>
<g id="n93_94"><circle cx="343.6" cy="1915" r="5.3"/></g>
<g id="n93_95"><circle cx="343.6" cy="1935.3" r="5.3"/></g>
<g id="n93_96"><circle cx="343.6" cy="1955.5" r="5.3"/></g>
<g id="n94_89"><circle cx="477" cy="1813.7" r="5.3"/></g>
<g id="n94_90"><circle cx="477" cy="1833.9" r="5.3"/></g>
<g id="n94_91"><circle cx="477" cy="1854.2" r="5.3"/></g>
<g id="n94_92"><circle cx="477" cy="1874.5" r="5.3"/></g>
<g id="n94_93"><circle cx="477" cy="1894.7" r="5.3"/></g>
<g id="n94_94"><circle cx="477" cy="1915" r="5.3"/></g>
<g id="n95_91"><circle cx="143.4" cy="1854.2" r="5.3"/></g>
<g id="n95_92"><circle cx="143.4" cy="1874.5" r="5.3"/></g>
<g id="n95_93"><circle cx="143.4" cy="1894.7" r="5.3"/></g>
<g id="n95_94"><circle cx="143.4" cy="1915" r="5.3"/></g>
<g id="n95_95"><circle cx="143.4" cy="1935.3" r="5.3"/></g>
<g id="n95_96"><circle cx="143.4" cy="1955.5" r="5.3"/></g>
<g id="n95_97"><circle cx="143.4" cy="1975.8" r="5.3"/></g>
<g id="n95_98"><circle cx="143.4" cy="1996.1" r="5.3"/></g>
<g id="n95_99"><circle cx="143.4" cy="2016.3" r="5.3"/></g>
<g id="n95_100"><circle cx="143.4" cy="2036.6" r="5.3"/></g>
<g id="n95_101"><circle cx="143.4" cy="2056.9" r="5.3"/></g>
<g id="n95_102"><circle cx="143.4" cy="2077.1" r="5.3"/></g>
<g id="n95_103"><circle cx="143.4" cy="2097.4" r="5.3"/></g>
<g id="n95_104"><circle cx="143.4" cy="2117.7" r="5.3"/></g>
<g id="n95_105"><circle cx="143.4" cy="2137.9" r="5.3"/></g>
<g id="n95_106"><circle cx="143.4" cy="2158.2" r="5.3"/></g>
<g id="n95_107"><circle cx="143.4" cy="2178.5" r="5.3"/></g>
<g id="n95_108"><circle cx="143.4" cy="2198.7" r="5.3"/></g>
<g id="n95_109"><circle cx="143.4" cy="2219" r="5.3"/></g>
<g id="n95_110"><circle cx="143.4" cy="2239.3" r="5.3"/></g>
<g id="n95_111"><circle cx="143.4" cy="2259.5" r="5.3"/></g>
<g id="n95_112"><circle cx="143.4" cy="2279.8" r="5.3"/></g>
<g id="n95_113"><circle cx="143.4" cy="2300.1" r="5.3"/></g>
<g id="n95_114"><circle cx="143.4" cy="2320.3" r="5.3"/></g>
<g id="n95_115"><circle cx="143.4" cy="2340.6" r="5.3"/></g>
<g id="n95_116"><circle cx="143.4" cy="2360.9" r="5.3"/></g>
<g id="n95_117"><circle cx="143.4" cy="2381.1" r="5.3"/></g>
<g id="n95_118"><circle cx="143.4" cy="2401.4" r="5.3"/></g>
<g id="n95_119"><circle cx="143.4" cy="2421.7" r="5.3"/></g>
<g id="n95_120"><circle cx="143.4" cy="2441.9" r="5.3"/></g>
<g id="n95_121"><circle cx="110" cy="2462.2" r="5.3"/></g>
<g id="n95_122"><circle cx="110" cy="2482.5" r="5.3"/></g>
<g id="n95_123"><circle cx="110" cy="2502.7" r="5.3"/></g>
<g id="n95_124"><circle cx="110" cy="2523" r="5.3"/></g>
<g id="n95_125"><circle cx="110" cy="2543.3" r="5.3"/></g>
<g id="n96_91"><circle cx="310.5" cy="1854.2" r="5.3"/></g>
<g id="n96_92"><circle cx="310.5" cy="1874.5" r="5.3"/></g>
<g id="n97_93"><circle cx="310.5" cy="1894.7" r="5.3"/></g>
<g id="n97_94"><circle cx="310.5" cy="1915" r="5.3"/></g>
<g id="n98_93"><circle cx="443.9" cy="1894.7" r="5.3"/></g>
<g id="n98_94"><circle cx="443.9" cy="1915" r="5.3"/></g>
<g id="n99_95"><circle cx="43.4" cy="1935.3" r="5.3"/></g>
<g id="n99_96"><circle cx="43.4" cy="1955.5" r="5.3"/></g>
<g id="n99_97"><circle cx="43.4" cy="1975.8" r="5.3"/></g>
<g id="n99_98"><circle cx="43.4" cy="1996.1" r="5.3"/></g>
<g id="n99_99"><circle cx="43.4" cy="2016.3" r="5.3"/></g>
<g id="n99_100"><circle cx="43.4" cy="2036.6" r="5.3"/></g>
<g id="n99_101"><circle cx="43.4" cy="2056.9" r="5.3"/></g>
<g id="n99_102"><circle cx="43.4" cy="2077.1" r="5.3"/></g>
<g id="n100_95"><circle cx="243.3" cy="1935.3" r="5.3"/></g>
<g id="n100_96"><circle cx="243.3" cy="1955.5" r="5.3"/></g>
<g id="n100_97"><circle cx="243.3" cy="1975.8" r="5.3"/></g>
<g id="n100_98"><circle cx="243.3" cy="1996.1" r="5.3"/></g>
<g id="n100_99"><circle cx="243.3" cy="2016.3" r="5.3"/></g>
<g id="n100_100"><circle cx="243.3" cy="2036.6" r="5.3"/></g>
<g id="n101_95"><circle cx="310.3" cy="1935.3" r="5.3"/></g>
<g id="n101_96"><circle cx="310.3" cy="1955.5" r="5.3"/></g>
<g id="n101_97"><circle cx="310.3" cy="1975.8" r="5.3"/></g>
<g id="n101_98"><circle cx="310.3" cy="1996.1" r="5.3"/></g>
<g id="n101_99"><circle cx="310.3" cy="2016.3" r="5.3"/></g>
<g id="n101_100"><circle cx="310.3" cy="2036.6" r="5.3"/></g>
<g id="n101_101"><circle cx="310.3" cy="2056.9" r="5.3"/></g>
<g id="n101_102"><circle cx="310.3" cy="2077.1" r="5.3"/></g>
<g id="n101_103"><circle cx="310.3" cy="2097.4" r="5.3"/></g>
<g id="n101_104"><circle cx="310.3" cy="2117.7" r="5.3"/></g>
<g id="n101_105"><circle cx="310.3" cy="2137.9" r="5.3"/></g>
<g id="n101_106"><circle cx="310.3" cy="2158.2" r="5.3"/></g>
<g id="n102_95"><circle cx="410" cy="1935.3" r="5.3"/></g>
<g id="n102_96"><circle cx="410" cy="1955.5" r="5.3"/></g>
<g id="n102_97"><circle cx="410" cy="1975.8" r="5.3"/></g>
<g id="n102_98"><circle cx="410" cy="1996.1" r="5.3"/></g>
<g id="n102_99"><circle cx="410" cy="2016.3" r="5.3"/></g>
<g id="n102_100"><circle cx="410" cy="2036.6" r="5.3"/></g>
<g id="n102_101"><circle cx="410" cy="2056.9" r="5.3"/></g>
<g id="n102_102"><circle cx="410" cy="2077.1" r="5.3"/></g>
<g id="n103_97"><circle cx="10" cy="1975.8" r="5.3"/></g>
<g id="n103_98"><circle cx="10" cy="1996.1" r="5.3"/></g>
<g id="n104_97"><circle cx="210" cy="1975.8" r="5.3"/></g>
<g id="n104_98"><circle cx="210" cy="1996.1" r="5.3"/></g>
<g id="n104_99"><circle cx="210" cy="2016.3" r="5.3"/></g>
<g id="n104_100"><circle cx="210" cy="2036.6" r="5.3"/></g>
<g id="n104_101"><circle cx="210" cy="2056.9" r="5.3"/></g>
<g id="n104_102"><circle cx="210" cy="2077.1" r="5.3"/></g>
<g id="n105_97"><circle cx="443.3" cy="1975.8" r="5.3"/></g>
<g id="n105_98"><circle cx="443.3" cy="1996.1" r="5.3"/></g>
<g id="n106_99"><circle cx="110" cy="2016.3" r="5.3"/></g>
<g id="n106_100"><circle cx="110" cy="2036.6" r="5.3"/></g>
<g id="n106_101"><circle cx="110" cy="2056.9" r="5.3"/></g>
<g id="n106_102"><circle cx="110" cy="2077.1" r="5.3"/></g>
<g id="n106_103"><circle cx="110" cy="2097.4" r="5.3"/></g>
<g id="n106_104"><circle cx="110" cy="2117.7" r="5.3"/></g>
<g id="n107_99"><circle cx="276.7" cy="2016.3" r="5.3"/></g>
<g id="n107_100"><circle cx="276.7" cy="2036.6" r="5.3"/></g>
<g id="n107_101"><circle cx="276.7" cy="2056.9" r="5.3"/></g>
<g id="n107_102"><circle cx="276.7" cy="2077.1" r="5.3"/></g>
<g id="n107_103"><circle cx="276.7" cy="2097.4" r="5.3"/></g>
<g id="n107_104"><circle cx="276.7" cy="2117.7" r="5.3"/></g>
<g id="n108_99"><circle cx="443.3" cy="2016.3" r="5.3"/></g>
<g id="n108_100"><circle cx="443.3" cy="2036.6" r="5.3"/></g>
<g id="n108_101"><circle cx="443.3" cy="2056.9" r="5.3"/></g>
<g id="n108_102"><circle cx="443.3" cy="2077.1" r="5.3"/></g>
<g id="n108_103"><circle cx="443.3" cy="2097.4" r="5.3"/></g>
<g id="n108_104"><circle cx="443.3" cy="2117.7" r="5.3"/></g>
<g id="n109_101"><circle cx="10" cy="2056.9" r="5.3"/></g>
<g id="n109_102"><circle cx="10" cy="2077.1" r="5.3"/></g>
<g id="n109_103"><circle cx="10" cy="2097.4" r="5.3"/></g>
<g id="n109_104"><circle cx="10" cy="2117.7" r="5.3"/></g>
<g id="n109_105"><circle cx="10" cy="2137.9" r="5.3"/></g>
<g id="n109_106"><circle cx="10" cy="2158.2" r="5.3"/></g>
<g id="n109_107"><circle cx="10" cy="2178.5" r="5.3"/></g>
<g id="n109_108"><circle cx="10" cy="2198.7" r="5.3"/></g>
<g id="n110_101"><circle cx="76.7" cy="2056.9" r="5.3"/></g>
<g id="n110_102"><circle cx="76.7" cy="2077.1" r="5.3"/></g>
<g id="n111_101"><circle cx="343.3" cy="2056.9" r="5.3"/></g>
<g id="n111_102"><circle cx="343.3" cy="2077.1" r="5.3"/></g>
<g id="n111_103"><circle cx="343.3" cy="2097.4" r="5.3"/></g>
<g id="n111_104"><circle cx="343.3" cy="2117.7" r="5.3"/></g>
<g id="n112_101"><circle cx="376.7" cy="2056.9" r="5.3"/></g>
<g id="n112_102"><circle cx="376.7" cy="2077.1" r="5.3"/></g>
<g id="n112_103"><circle cx="376.7" cy="2097.4" r="5.3"/></g>
<g id="n112_104"><circle cx="376.7" cy="2117.7" r="5.3"/></g>
<g id="n112_105"><circle cx="376.7" cy="2137.9" r="5.3"/></g>
<g id="n112_106"><circle cx="376.7" cy="2158.2" r="5.3"/></g>
<g id="n113_103"><circle cx="243.3" cy="2097.4" r="5.3"/></g>
<g id="n113_104"><circle cx="243.3" cy="2117.7" r="5.3"/></g>
<g id="n113_105"><circle cx="243.3" cy="2137.9" r="5.3"/></g>
<g id="n113_106"><circle cx="243.3" cy="2158.2" r="5.3"/></g>
<g id="n113_107"><circle cx="243.3" cy="2178.5" r="5.3"/></g>
<g id="n113_108"><circle cx="243.3" cy="2198.7" r="5.3"/></g>
<g id="n113_109"><circle cx="243.3" cy="2219" r="5.3"/></g>
<g id="n113_110"><circle cx="243.3" cy="2239.3" r="5.3"/></g>
<g id="n113_111"><circle cx="243.3" cy="2259.5" r="5.3"/></g>
<g id="n113_112"><circle cx="243.3" cy="2279.8" r="5.3"/></g>
<g id="n113_113"><circle cx="243.3" cy="2300.1" r="5.3"/></g>
<g id="n113_114"><circle cx="243.3" cy="2320.3" r="5.3"/></g>
<g id="n113_115"><circle cx="243.3" cy="2340.6" r="5.3"/></g>
<g id="n113_116"><circle cx="243.3" cy="2360.9" r="5.3"/></g>
<g id="n113_117"><circle cx="243.3" cy="2381.1" r="5.3"/></g>
<g id="n113_118"><circle cx="243.3" cy="2401.4" r="5.3"/></g>
<g id="n113_119"><circle cx="243.3" cy="2421.7" r="5.3"/></g>
<g id="n113_120"><circle cx="243.3" cy="2441.9" r="5.3"/></g>
<g id="n113_121"><circle cx="243.3" cy="2462.2" r="5.3"/></g>
<g id="n113_122"><circle cx="243.3" cy="2482.5" r="5.3"/></g>
<g id="n113_123"><circle cx="227.3" cy="2502.7" r="5.3"/></g>
<g id="n113_124"><circle cx="227.3" cy="2523" r="5.3"/></g>
<g id="n114_103"><circle cx="410" cy="2097.4" r="5.3"/></g>
<g id="n114_104"><circle cx="410" cy="2117.7" r="5.3"/></g>
<g id="n114_105"><circle cx="410" cy="2137.9" r="5.3"/></g>
<g id="n114_106"><circle cx="410" cy="2158.2" r="5.3"/></g>
<g id="n114_107"><circle cx="410" cy="2178.5" r="5.3"/></g>
<g id="n114_108"><circle cx="410" cy="2198.7" r="5.3"/></g>
<g id="n114_109"><circle cx="410" cy="2219" r="5.3"/></g>
<g id="n114_110"><circle cx="410" cy="2239.3" r="5.3"/></g>
<g id="n114_111"><circle cx="410" cy="2259.5" r="5.3"/></g>
<g id="n114_112"><circle cx="410" cy="2279.8" r="5.3"/></g>
<g id="n115_105"><circle cx="276.7" cy="2137.9" r="5.3"/></g>
<g id="n115_106"><circle cx="276.7" cy="2158.2" r="5.3"/></g>
<g id="n116_105"><circle cx="343.3" cy="2137.9" r="5.3"/></g>
<g id="n116_106"><circle cx="343.3" cy="2158.2" r="5.3"/></g>
<g id="n117_105"><circle cx="443.3" cy="2137.9" r="5.3"/></g>
<g id="n117_106"><circle cx="443.3" cy="2158.2" r="5.3"/></g>
<g id="n117_107"><circle cx="443.3" cy="2178.5" r="5.3"/></g>
<g id="n117_108"><circle cx="443.3" cy="2198.7" r="5.3"/></g>
<g id="n118_107"><circle cx="276.7" cy="2178.5" r="5.3"/></g>
<g id="n118_108"><circle cx="276.7" cy="2198.7" r="5.3"/></g>
<g id="n119_107"><circle cx="376.7" cy="2178.5" r="5.3"/></g>
<g id="n119_108"><circle cx="376.7" cy="2198.7" r="5.3"/></g>
<g id="n119_109"><circle cx="376.7" cy="2219" r="5.3"/></g>
<g id="n119_110"><circle cx="376.7" cy="2239.3" r="5.3"/></g>
<g id="n119_111"><circle cx="376.7" cy="2259.5" r="5.3"/></g>
<g id="n119_112"><circle cx="376.7" cy="2279.8" r="5.3"/></g>
<g id="n120_109"><circle cx="443.3" cy="2219" r="5.3"/></g>
<g id="n120_110"><circle cx="443.3" cy="2239.3" r="5.3"/></g>
<g id="n121_111"><circle cx="443.3" cy="2259.5" r="5.3"/></g>
<g id="n121_112"><circle cx="443.3" cy="2279.8" r="5.3"/></g>
<g id="n122_113"><circle cx="276.7" cy="2300.1" r="5.3"/></g>
<g id="n122_114"><circle cx="276.7" cy="2320.3" r="5.3"/></g>
<g id="n122_115"><circle cx="276.7" cy="2340.6" r="5.3"/></g>
<g id="n122_116"><circle cx="276.7" cy="2360.9" r="5.3"/></g>
<g id="n122_117"><circle cx="276.7" cy="2381.1" r="5.3"/></g>
<g id="n122_118"><circle cx="276.7" cy="2401.4" r="5.3"/></g>
<g id="n122_119"><circle cx="276.7" cy="2421.7" r="5.3"/></g>
<g id="n122_120"><circle cx="276.7" cy="2441.9" r="5.3"/></g>
<g id="n122_121"><circle cx="276.7" cy="2462.2" r="5.3"/></g>
<g id="n122_122"><circle cx="276.7" cy="2482.5" r="5.3"/></g>
<g id="n123_115"><circle cx="110" cy="2340.6" r="5.3"/></g>
<g id="n123_116"><circle cx="110" cy="2360.9" r="5.3"/></g>
<g id="n123_117"><circle cx="110" cy="2381.1" r="5.3"/></g>
<g id="n123_118"><circle cx="110" cy="2401.4" r="5.3"/></g>
<g id="n123_119"><circle cx="110" cy="2421.7" r="5.3"/></g>
<g id="n123_120"><circle cx="110" cy="2441.9" r="5.3"/></g>
<g id="n124_115"><circle cx="310" cy="2340.6" r="5.3"/></g>
<g id="n124_116"><circle cx="310" cy="2360.9" r="5.3"/></g>
<g id="n125_119"><circle cx="176.7" cy="2421.7" r="5.3"/></g>
<g id="n125_120"><circle cx="176.7" cy="2441.9" r="5.3"/></g>
<g id="n125_121"><circle cx="176.7" cy="2462.2" r="5.3"/></g>
<g id="n125_122"><circle cx="176.7" cy="2482.5" r="5.3"/></g>
<g id="n125_123"><circle cx="176.7" cy="2502.7" r="5.3"/></g>
<g id="n125_124"><circle cx="176.7" cy="2523" r="5.3"/></g>
<g id="n125_125"><circle cx="176.7" cy="2543.3" r="5.3"/></g>
<g id="n125_126"><circle cx="176.7" cy="2563.5" r="5.3"/></g>
<g id="n125_127"><circle cx="176.7" cy="2583.8" r="5.3"/></g>
<g id="n125_128"><circle cx="176.7" cy="2604.1" r="5.3"/></g>
<g id="n126_121"><circle cx="310" cy="2462.2" r="5.3"/></g>
<g id="n126_122"><circle cx="310" cy="2482.5" r="5.3"/></g>
<g id="n126_123"><circle cx="310" cy="2502.7" r="5.3"/></g>
<g id="n126_124"><circle cx="310" cy="2523" r="5.3"/></g>
<g id="n126_125"><circle cx="310" cy="2543.3" r="5.3"/></g>
<g id="n126_126"><circle cx="310" cy="2563.5" r="5.3"/></g>
<g id="n126_127"><circle cx="310" cy="2583.8" r="5.3"/></g>
<g id="n126_128"><circle cx="310" cy="2604.1" r="5.3"/></g>
<g id="n126_129"><circle cx="335.3" cy="2624.3" r="5.3"/></g>
<g id="n126_130"><circle cx="335.3" cy="2644.6" r="5.3"/></g>
<g id="n126_131"><circle cx="335.3" cy="2664.8" r="5.3"/></g>
<g id="n126_132"><circle cx="335.3" cy="2685.1" r="5.3"/></g>
<g id="n126_133"><circle cx="335.3" cy="2705.4" r="5.3"/></g>
<g id="n126_134"><circle cx="335.3" cy="2725.6" r="5.3"/></g>
<g id="n126_135"><circle cx="335.3" cy="2745.9" r="5.3"/></g>
<g id="n126_136"><circle cx="335.3" cy="2766.2" r="5.3"/></g>
<g id="n126_137"><circle cx="335.3" cy="2786.4" r="5.3"/></g>
<g id="n126_138"><circle cx="335.3" cy="2806.7" r="5.3"/></g>
<g id="n126_139"><circle cx="335.3" cy="2827" r="5.3"/></g>
<g id="n126_140"><circle cx="335.3" cy="2847.2" r="5.3"/></g>
<g id="n126_141"><circle cx="351.3" cy="2867.5" r="5.3"/></g>
<g id="n126_142"><circle cx="351.3" cy="2887.8" r="5.3"/></g>
<g id="n126_143"><circle cx="351.3" cy="2908" r="5.3"/></g>
<g id="n126_144"><circle cx="351.3" cy="2928.3" r="5.3"/></g>
<g id="n127_123"><circle cx="260.7" cy="2502.7" r="5.3"/></g>
<g id="n127_124"><circle cx="260.7" cy="2523" r="5.3"/></g>
<g id="n127_125"><circle cx="243.3" cy="2543.3" r="5.3"/></g>
<g id="n127_126"><circle cx="243.3" cy="2563.5" r="5.3"/></g>
<g id="n127_127"><circle cx="243.3" cy="2583.8" r="5.3"/></g>
<g id="n127_128"><circle cx="243.3" cy="2604.1" r="5.3"/></g>
<g id="n127_129"><circle cx="219.3" cy="2624.3" r="5.3"/></g>
<g id="n127_130"><circle cx="219.3" cy="2644.6" r="5.3"/></g>
<g id="n127_131"><circle cx="219.3" cy="2664.8" r="5.3"/></g>
<g id="n127_132"><circle cx="219.3" cy="2685.1" r="5.3"/></g>
<g id="n127_133"><circle cx="219.3" cy="2705.4" r="5.3"/></g>
<g id="n127_134"><circle cx="219.3" cy="2725.6" r="5.3"/></g>
<g id="n128_125"><circle cx="210" cy="2543.3" r="5.3"/></g>
<g id="n128_126"><circle cx="210" cy="2563.5" r="5.3"/></g>
<g id="n129_125"><circle cx="343.3" cy="2543.3" r="5.3"/></g>
<g id="n129_126"><circle cx="343.3" cy="2563.5" r="5.3"/></g>
<g id="n130_125"><circle cx="276.7" cy="2543.3" r="5.3"/></g>
<g id="n130_126"><circle cx="276.7" cy="2563.5" r="5.3"/></g>
<g id="n131_127"><circle cx="210" cy="2583.8" r="5.3"/></g>
<g id="n131_128"><circle cx="210" cy="2604.1" r="5.3"/></g>
<g id="n132_129"><circle cx="252.7" cy="2624.3" r="5.3"/></g>
<g id="n132_130"><circle cx="252.7" cy="2644.6" r="5.3"/></g>
<g id="n132_131"><circle cx="252.7" cy="2664.8" r="5.3"/></g>
<g id="n132_132"><circle cx="252.7" cy="2685.1" r="5.3"/></g>
<g id="n133_129"><circle cx="302" cy="2624.3" r="5.3"/></g>
<g id="n133_130"><circle cx="302" cy="2644.6" r="5.3"/></g>
<g id="n133_131"><circle cx="302" cy="2664.8" r="5.3"/></g>
<g id="n133_132"><circle cx="302" cy="2685.1" r="5.3"/></g>
<g id="n133_133"><circle cx="302" cy="2705.4" r="5.3"/></g>
<g id="n133_134"><circle cx="302" cy="2725.6" r="5.3"/></g>
<g id="n133_135"><circle cx="302" cy="2745.9" r="5.3"/></g>
<g id="n133_136"><circle cx="302" cy="2766.2" r="5.3"/></g>
<g id="n133_137"><circle cx="302" cy="2786.4" r="5.3"/></g>
<g id="n133_138"><circle cx="302" cy="2806.7" r="5.3"/></g>
<g id="n133_139"><circle cx="302" cy="2827" r="5.3"/></g>
<g id="n133_140"><circle cx="302" cy="2847.2" r="5.3"/></g>
<g id="n134_139"><circle cx="268.3" cy="2827" r="5.3"/></g>
<g id="n134_140"><circle cx="268.3" cy="2847.2" r="5.3"/></g>
<g id="n135_141"><circle cx="318" cy="2867.5" r="5.3"/></g>
<g id="n135_142"><circle cx="318" cy="2887.8" r="5.3"/></g>
<g id="n136_123"><circle cx="143.3" cy="2502.7" r="5.3"/></g>
<g id="n136_124"><circle cx="143.3" cy="2523" r="5.3"/></g>
<g id="n136_125"><circle cx="143.3" cy="2543.3" r="5.3"/></g>
<g id="n136_126"><circle cx="143.3" cy="2563.5" r="5.3"/></g>
<g id="n136_127"><circle cx="143.3" cy="2583.8" r="5.3"/></g>
<g id="n136_128"><circle cx="143.3" cy="2604.1" r="5.3"/></g>
</g>
</svg>
